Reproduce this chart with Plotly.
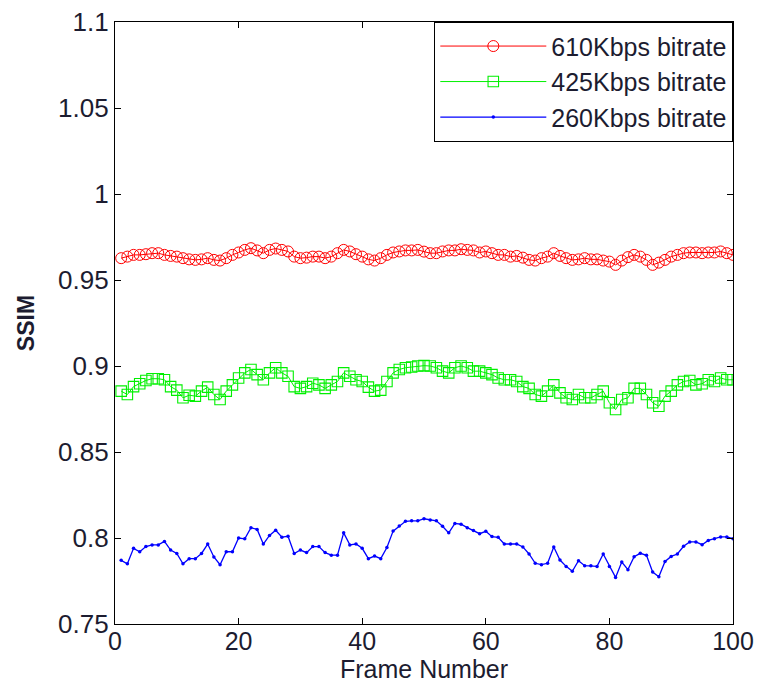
import plotly.graph_objects as go

frames = list(range(1, 101))

ssim_610 = [
    0.9627, 0.9636, 0.9646, 0.9646, 0.9650, 0.9656, 0.9656, 0.9646, 0.9640, 0.9636,
    0.9627, 0.9620, 0.9617, 0.9620, 0.9627, 0.9617, 0.9613, 0.9627, 0.9646, 0.9660,
    0.9675, 0.9685, 0.9672, 0.9656, 0.9675, 0.9683, 0.9675, 0.9666, 0.9636, 0.9627,
    0.9630, 0.9636, 0.9636, 0.9627, 0.9636, 0.9656, 0.9675, 0.9666, 0.9650, 0.9636,
    0.9620, 0.9613, 0.9627, 0.9646, 0.9660, 0.9666, 0.9672, 0.9672, 0.9675, 0.9665,
    0.9656, 0.9656, 0.9666, 0.9672, 0.9672, 0.9679, 0.9675, 0.9672, 0.9660, 0.9666,
    0.9656, 0.9646, 0.9646, 0.9636, 0.9640, 0.9630, 0.9617, 0.9613, 0.9627, 0.9636,
    0.9656, 0.9640, 0.9627, 0.9617, 0.9620, 0.9627, 0.9620, 0.9620, 0.9613, 0.9607,
    0.9588, 0.9613, 0.9633, 0.9646, 0.9636, 0.9617, 0.9588, 0.9601, 0.9617, 0.9636,
    0.9646, 0.9656, 0.9660, 0.9660, 0.9656, 0.9660, 0.9660, 0.9666, 0.9656, 0.9646,
]

ssim_425 = [
    0.8854, 0.8834, 0.8880, 0.8897, 0.8916, 0.8926, 0.8926, 0.8920, 0.8880, 0.8860,
    0.8815, 0.8830, 0.8825, 0.8854, 0.8877, 0.8834, 0.8805, 0.8854, 0.8890, 0.8930,
    0.8960, 0.8980, 0.8950, 0.8920, 0.8960, 0.8990, 0.8960, 0.8940, 0.8880, 0.8870,
    0.8880, 0.8900, 0.8890, 0.8870, 0.8890, 0.8910, 0.8960, 0.8940, 0.8920, 0.8910,
    0.8877, 0.8854, 0.8860, 0.8910, 0.8960, 0.8980, 0.8990, 0.8994, 0.9000, 0.9002,
    0.9000, 0.8990, 0.8970, 0.8960, 0.8990, 0.9000, 0.8990, 0.8970, 0.8970, 0.8960,
    0.8950, 0.8930, 0.8920, 0.8920, 0.8910, 0.8880, 0.8870, 0.8834, 0.8825, 0.8854,
    0.8890, 0.8844, 0.8815, 0.8805, 0.8834, 0.8815, 0.8815, 0.8834, 0.8854, 0.8786,
    0.8747, 0.8805, 0.8815, 0.8870, 0.8870, 0.8834, 0.8786, 0.8766, 0.8825, 0.8854,
    0.8890, 0.8910, 0.8916, 0.8890, 0.8897, 0.8920, 0.8910, 0.8930, 0.8920, 0.8920,
]

ssim_260 = [
    0.7870, 0.7850, 0.7940, 0.7920, 0.7950, 0.7960, 0.7960, 0.7980, 0.7930, 0.7910,
    0.7850, 0.7880, 0.7880, 0.7910, 0.7965, 0.7890, 0.7845, 0.7920, 0.7920, 0.8000,
    0.7995, 0.8060, 0.8050, 0.7965, 0.8015, 0.8045, 0.8005, 0.8010, 0.7910, 0.7930,
    0.7915, 0.7950, 0.7950, 0.7915, 0.7900, 0.7900, 0.8030, 0.7960, 0.7965, 0.7940,
    0.7880, 0.7895, 0.7880, 0.7945, 0.8040, 0.8070, 0.8097, 0.8100, 0.8100, 0.8112,
    0.8105, 0.8100, 0.8068, 0.8030, 0.8085, 0.8080, 0.8060, 0.8043, 0.8025, 0.8039,
    0.8008, 0.8004, 0.7965, 0.7965, 0.7965, 0.7948, 0.7907, 0.7853, 0.7845, 0.7853,
    0.7948, 0.7872, 0.7835, 0.7806, 0.7868, 0.7839, 0.7839, 0.7835, 0.7907, 0.7835,
    0.7771, 0.7860, 0.7816, 0.7891, 0.7911, 0.7899, 0.7802, 0.7775, 0.7864, 0.7893,
    0.7907, 0.7952, 0.7977, 0.7977, 0.7961, 0.7986, 0.7996, 0.8006, 0.8006, 0.7996,
]

y_ticks = [0.75, 0.8, 0.85, 0.9, 0.95, 1.0, 1.05, 1.1]
y_tick_text = ["0.75", "0.8", "0.85", "0.9", "0.95", "1", "1.05", "1.1"]
x_ticks = [0, 20, 40, 60, 80, 100]

font_family = "Liberation Sans, Arial, sans-serif"
ink = "#1c1c30"

fig = go.Figure()
fig.add_trace(go.Scatter(
    x=frames, y=ssim_610, mode="lines+markers", name="610Kbps bitrate",
    line=dict(color="#ff0000", width=1),
    marker=dict(symbol="circle-open", size=11, color="#ff0000", line=dict(width=1)),
))
fig.add_trace(go.Scatter(
    x=frames, y=ssim_425, mode="lines+markers", name="425Kbps bitrate",
    line=dict(color="#00f000", width=1),
    marker=dict(symbol="square-open", size=10.5, color="#00f000", line=dict(width=1.1)),
))
fig.add_trace(go.Scatter(
    x=frames, y=ssim_260, mode="lines+markers", name="260Kbps bitrate",
    line=dict(color="#0000ff", width=1.3),
    marker=dict(symbol="circle", size=3.5, color="#0000ff"),
))

axis_common = dict(
    showline=True, linecolor="black", linewidth=1.3, mirror="ticks",
    ticks="inside", ticklen=6, tickcolor="black", tickwidth=1,
    showgrid=False, zeroline=False,
)

fig.update_xaxes(
    range=[0, 100], tickvals=x_ticks,
    tickfont=dict(family=font_family, size=25, color=ink),
    ticklabelstandoff=-5,
    title=dict(text="Frame Number", font=dict(family=font_family, size=25, color=ink), standoff=4),
    automargin=False,
    **axis_common,
)
fig.update_yaxes(
    range=[0.75, 1.1], tickvals=y_ticks, ticktext=y_tick_text,
    tickfont=dict(family=font_family, size=26, color=ink),
    title=dict(text="<b>SSIM</b>", font=dict(family=font_family, size=23, color=ink), standoff=16),
    automargin=False,
    **axis_common,
)

fig.update_layout(
    width=757, height=686,
    margin=dict(l=115, r=24, t=22, b=62),
    paper_bgcolor="white", plot_bgcolor="white",
    showlegend=True,
    legend=dict(
        x=1, y=1, xanchor="right", yanchor="top",
        bgcolor="white", bordercolor="black", borderwidth=1.3,
        font=dict(family=font_family, size=25, color=ink),
        itemwidth=106,
    ),
)

fig.write_html("out.html")
